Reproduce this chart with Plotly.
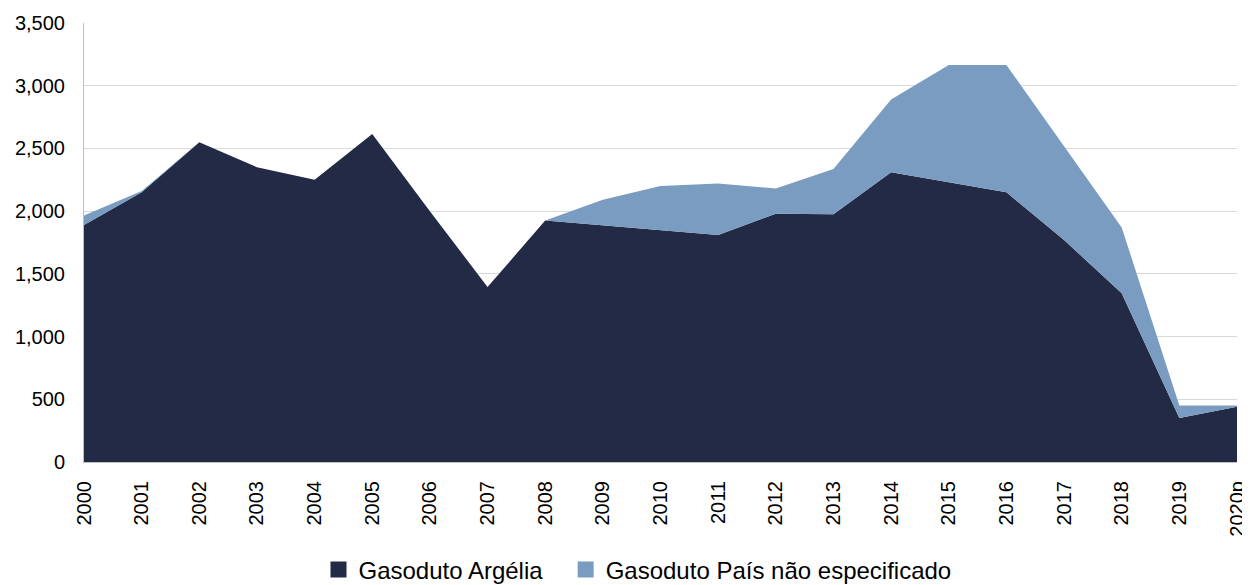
import plotly.graph_objects as go

# anos e valores
anos = ["2000", "2001", "2002", "2003", "2004", "2005", "2006", "2007", "2008", "2009",
        "2010", "2011", "2012", "2013", "2014", "2015", "2016", "2017", "2018", "2019", "2020p"]
argelia = [1890, 2150, 2550, 2350, 2250, 2615, 2000, 1395, 1925, 1885,
           1845, 1810, 1980, 1975, 2310, 2230, 2150, 1770, 1345, 350, 440]
nao_especificado = [75, 10, 0, 0, 0, 0, 0, 0, 0, 205,
                    355, 410, 200, 360, 580, 935, 1015, 745, 525, 100, 10]

series = [("Gasoduto Argélia", argelia, "#222A46", "legend"),
          ("Gasoduto País não especificado", nao_especificado, "#7A9CC0", "legend2")]

fig = go.Figure()
for nome, valores, cor, leg in series:
    fig.add_trace(go.Scatter(
        x=anos, y=valores, name=nome, showlegend=False,
        mode="lines", line=dict(width=0, color=cor),
        fillcolor=cor, stackgroup="g"))
# entradas de legenda com quadrado, como no Excel (uma legenda por série)
for nome, valores, cor, leg in series:
    fig.add_trace(go.Scatter(
        x=[None], y=[None], name=nome, mode="markers", legend=leg,
        marker=dict(symbol="square", size=17, color=cor)))

leg_base = dict(orientation="h", xref="container", yref="container",
                xanchor="left", y=0.026, yanchor="middle",
                font=dict(size=24), itemwidth=30)

# a página tem 8px de margem no body, por isso a figura é um pouco menor
fig.update_layout(
    width=1242, height=577,
    margin=dict(l=76, r=13, t=15, b=123),
    plot_bgcolor="white", paper_bgcolor="white",
    font=dict(family="Liberation Sans, Arial, sans-serif", size=20, color="#000000"),
    showlegend=True,
    legend=dict(leg_base, x=0.25),
    legend2=dict(leg_base, x=0.449),
    xaxis=dict(type="category", range=[0, 20], tickangle=-90, automargin=False,
               showline=True, linecolor="#BFBFBF", linewidth=1,
               showgrid=False, ticks="", tickfont=dict(size=20), ticklabelstandoff=10),
    yaxis=dict(range=[0, 3500], dtick=500, tickformat=",", automargin=False,
               showline=True, linecolor="#BFBFBF", linewidth=1,
               gridcolor="#D9D9D9", gridwidth=1, ticks="",
               tickfont=dict(size=20), zeroline=False, ticklabelstandoff=14),
)

fig.write_html("out.html")
